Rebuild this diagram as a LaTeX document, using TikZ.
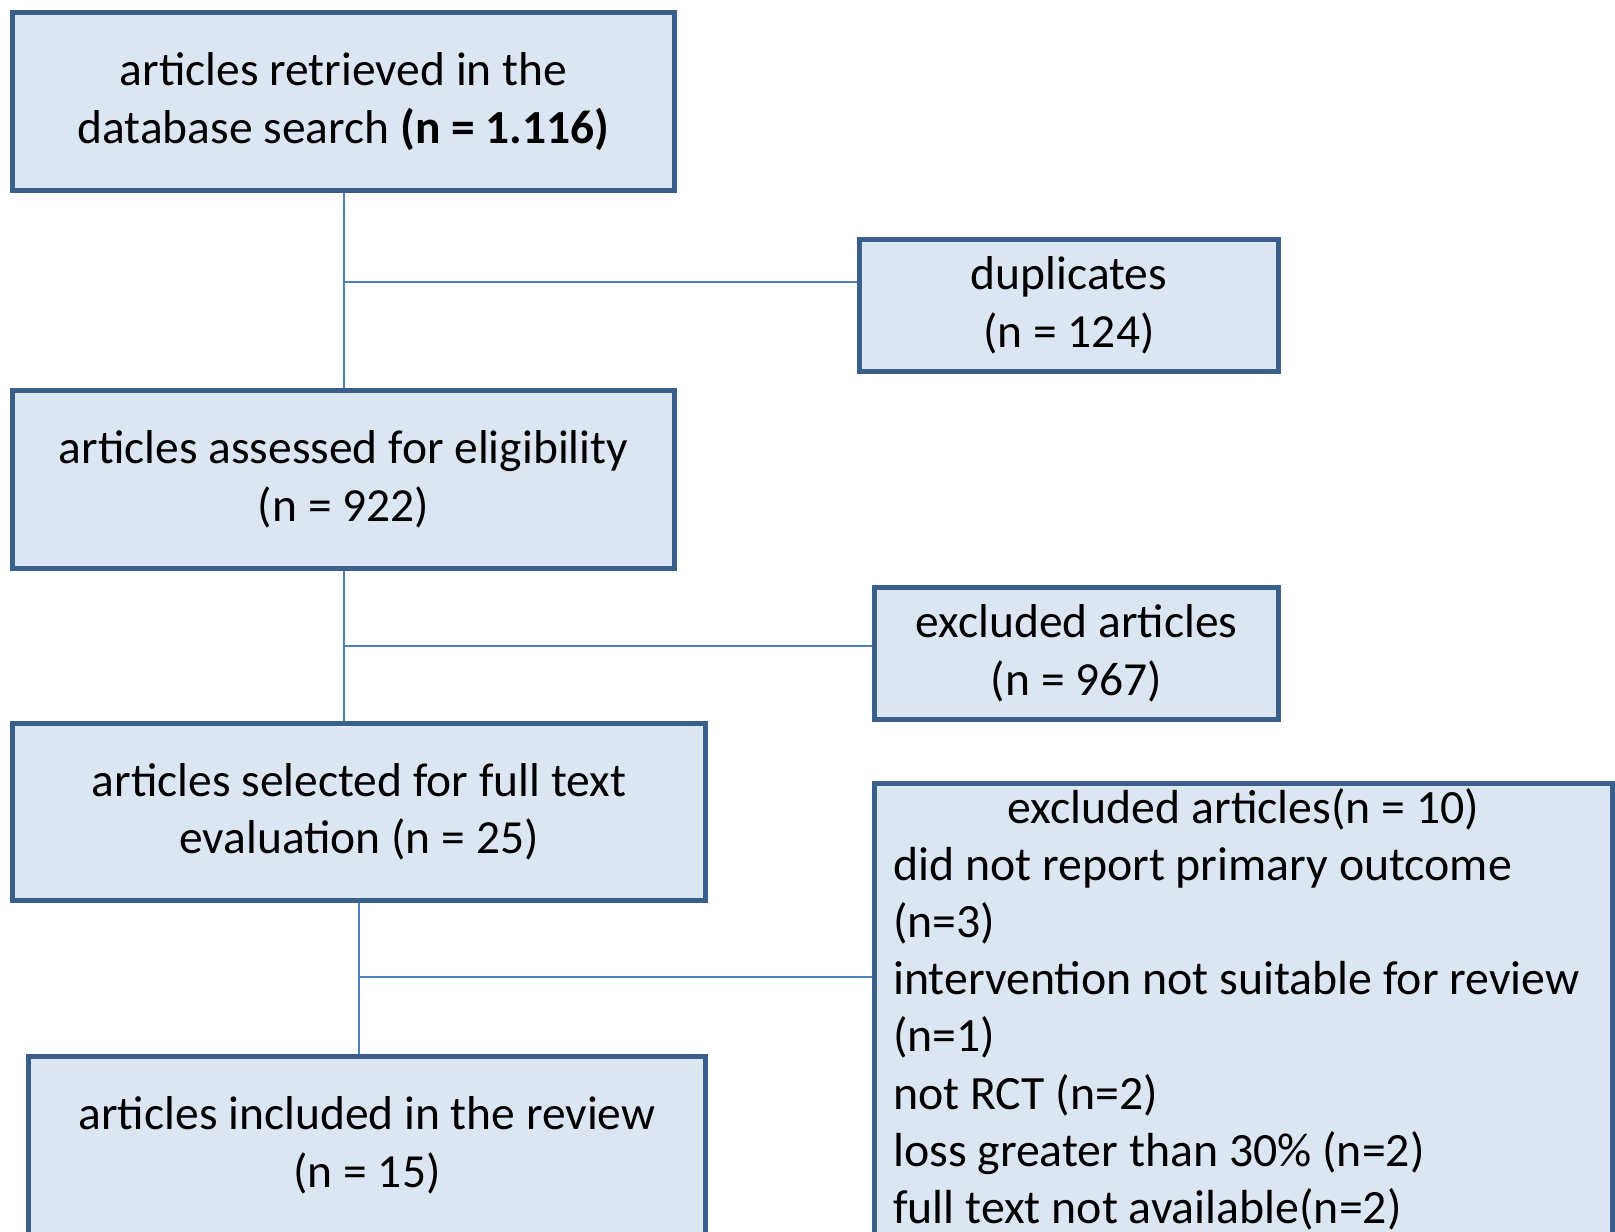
\documentclass[tikz,border=0pt]{standalone}
\usepackage{fontspec}
\setmainfont{Carlito}
\definecolor{boxfill}{HTML}{DCE6F2}
\definecolor{boxline}{HTML}{3A5F8B}
\definecolor{connline}{HTML}{4F81BD}
\begin{document}
\begin{tikzpicture}[x=1pt,y=-1pt,
  flowbox/.style={draw=boxline, fill=boxfill, line width=5pt, rectangle, inner sep=0pt, align=center,
    font=\fontsize{47.5}{57.5}\selectfont},
  conn/.style={draw=connline, line width=2pt},
  plain/.style={inner sep=0pt, font=\fontsize{47.8}{57.2}\selectfont}]
\clip (0,0) rectangle (1615,1232);
\fill[white] (0,0) rectangle (1615,1232);
\coordinate (j1) at (343.5,282);
\coordinate (j2) at (343.5,646);
\coordinate (j3) at (359,977);
% boxes
\node[flowbox, minimum width=662, minimum height=178] (b1) at (343.5,101.5)
  {articles retrieved in the\\database search \textbf{(n = 1.116)}};
\node[flowbox, minimum width=419, minimum height=132] (dup) at (1069,305.5)
  {duplicates\\(n = 124)};
\node[flowbox, minimum width=662, minimum height=178] (b2) at (343.5,479.5)
  {articles assessed for eligibility\\(n = 922)};
\node[flowbox, minimum width=404, minimum height=132] (ex1) at (1076.5,653.5)
  {excluded articles\\(n = 967)};
\node[flowbox, minimum width=693, minimum height=177] (b3) at (359,812)
  {articles selected for full text\\evaluation (n = 25)};
\node[flowbox, minimum width=677, minimum height=178] (b4) at (367,1145.5)
  {articles included in the review\\(n = 15)};
\node[flowbox, minimum width=738, minimum height=480] (ex2) at (1243.5,1023) {};
\node[plain, anchor=base] (ex2t) at (1243.5,823) {excluded articles(n = 10)};
\node[plain, anchor=base west, align=left] (ex2l) at (893,1223.5)
  {did not report primary outcome\\(n=3)\\intervention not suitable for review\\(n=1)\\not RCT (n=2)\\loss greater than 30\% (n=2)\\full text not available(n=2)};
% connectors
\draw[conn] (b1.south) -- (b2.north);
\draw[conn] (j1) -- (j1 -| dup.west);
\draw[conn] (b2.south) -- (b3.north -| b2.south);
\draw[conn] (j2) -- (j2 -| ex1.west);
\draw[conn] (b3.south) -- (b4.north -| b3.south);
\draw[conn] (j3) -- (j3 -| ex2.west);
\end{tikzpicture}
\end{document}
